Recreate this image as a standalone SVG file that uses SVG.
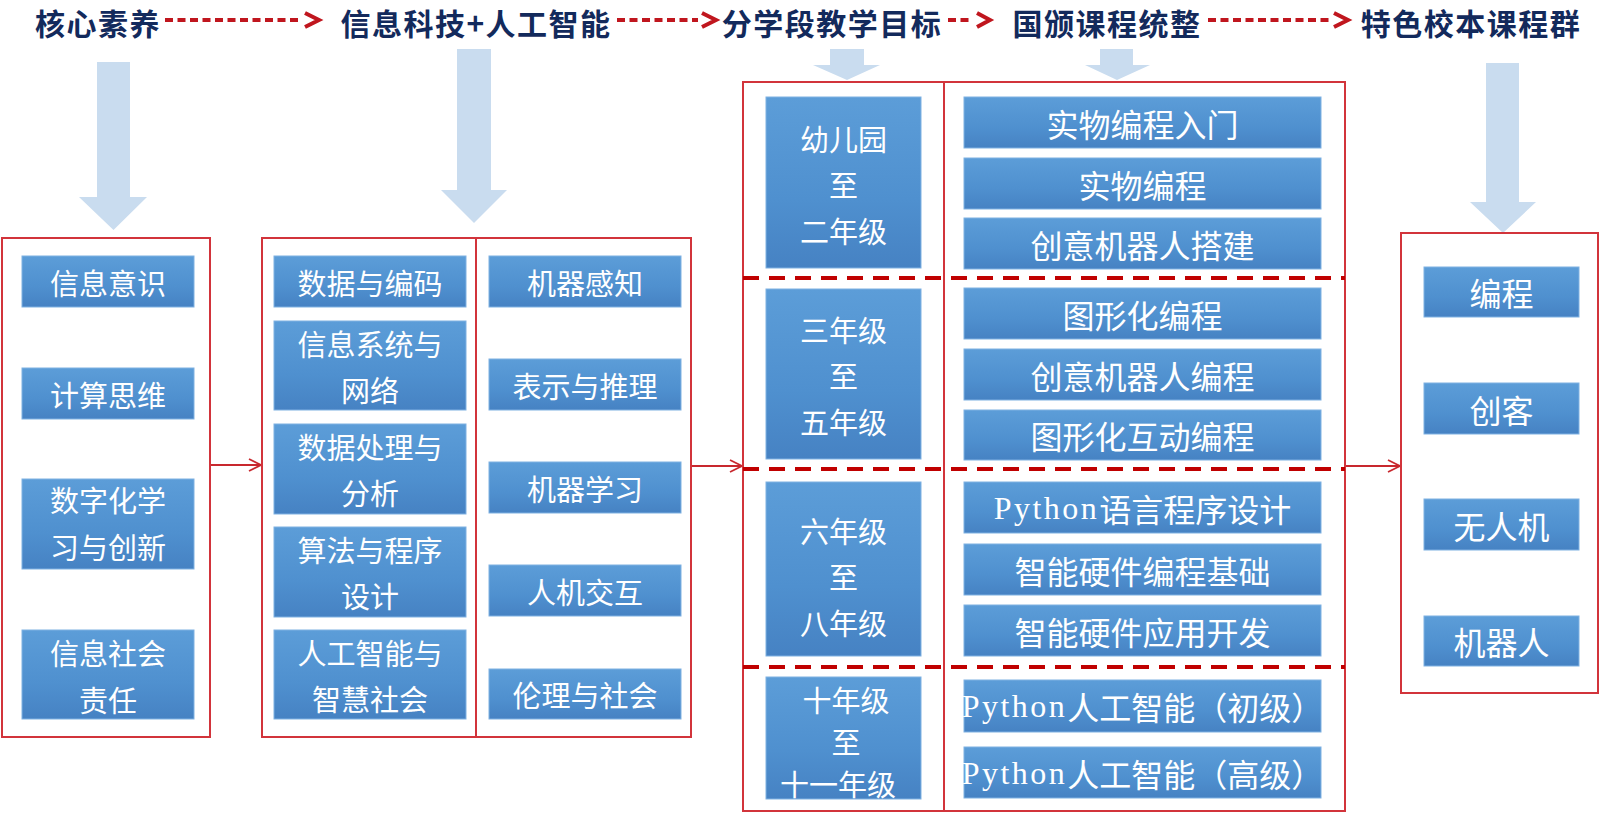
<svg xmlns="http://www.w3.org/2000/svg" width="1600" height="813" viewBox="0 0 1600 813">
<defs>
<linearGradient id="blueg" x1="0" y1="0" x2="0" y2="1">
<stop offset="0" stop-color="#5c9dd8"/>
<stop offset="0.6" stop-color="#4f90cf"/>
<stop offset="1" stop-color="#4682c3"/>
</linearGradient>
<marker id="chev" viewBox="-2 -2 16 16" refX="12" refY="6" markerWidth="16" markerHeight="16" markerUnits="userSpaceOnUse" orient="auto">
<path d="M0,0 L12,6 L0,12" fill="none" stroke="#c8282e" stroke-width="1.8" stroke-dasharray="none"/>
</marker>
<style>
.title{font-family:"Noto Sans CJK SC","Noto Sans",sans-serif;font-size:30px;font-weight:700;fill:#132a5c;letter-spacing:1.5px;text-anchor:middle;}
.frame{fill:none;stroke:#d2343b;stroke-width:2;}
.box{fill:url(#blueg);stroke:#7fb1e2;stroke-width:1;}
.t{font-family:"Noto Sans CJK SC","Noto Sans",sans-serif;font-size:29px;fill:#ffffff;text-anchor:middle;dominant-baseline:central;}
.tl{font-family:"Noto Sans CJK SC","Noto Sans",sans-serif;font-size:32px;fill:#ffffff;text-anchor:middle;dominant-baseline:central;}
.py{font-family:"Liberation Serif",serif;letter-spacing:2.5px;}
.big{fill:#c9dcef;}
.tdash{stroke:#c0161e;stroke-width:4;stroke-dasharray:8 4.5;fill:none;}
.thead{stroke:#c0161e;stroke-width:4;fill:none;stroke-linejoin:miter;}
.conn{stroke:#c8282e;stroke-width:2;fill:none;marker-end:url(#chev);}
.sep{stroke:#c00000;stroke-width:4;stroke-dasharray:16 10;fill:none;}
</style>
</defs>
<rect width="1600" height="813" fill="#ffffff"/>

<g id="titles">
<text class="title" x="98" y="35">核心素养</text>
<text class="title" x="476" y="35">信息科技+人工智能</text>
<text class="title" x="832" y="35">分学段教学目标</text>
<text class="title" x="1107" y="35">国颁课程统整</text>
<text class="title" x="1471" y="35">特色校本课程群</text>
</g>

<g id="connectors">
<line class="tdash" x1="165" y1="20" x2="300" y2="20"/>
<polyline class="thead" points="305,13 319,20 305,27"/>
<line class="tdash" x1="617" y1="20" x2="698" y2="20"/>
<polyline class="thead" points="702,13 716,20 702,27"/>
<line class="tdash" x1="948" y1="20" x2="973" y2="20"/>
<polyline class="thead" points="977,13 990,20 977,27"/>
<line class="tdash" x1="1208" y1="20" x2="1330" y2="20"/>
<polyline class="thead" points="1334,13 1348,20 1334,27"/>
<polygon class="big" points="97,62 130,62 130,197 147,197 113.5,230 79,197 97,197"/>
<polygon class="big" points="457,49 491,49 491,190 507,190 474,223 441,190 457,190"/>
<polygon class="big" points="830,49 864,49 864,65 880,65 847,80 813,65 830,65"/>
<polygon class="big" points="1100,49 1133,49 1133,65 1150,65 1117,80 1085,65 1100,65"/>
<polygon class="big" points="1486,63 1519,63 1519,202 1536,202 1503,233 1470,202 1486,202"/>
<line class="conn" x1="210" y1="465" x2="261" y2="465"/>
<line class="conn" x1="691" y1="466" x2="742" y2="466"/>
<line class="conn" x1="1346" y1="466" x2="1400" y2="466"/>
</g>

<g id="core-literacy">
<rect class="frame" x="2" y="238" width="208" height="499"/>
<g id="n-xxys"><rect class="box" x="22" y="256" width="172" height="51"/><text class="t" x="108" y="281.5">信息意识</text></g>
<g id="n-jssw"><rect class="box" x="22" y="368" width="172" height="51"/><text class="t" x="108" y="393.5">计算思维</text></g>
<g id="n-szh"><rect class="box" x="22" y="479" width="172" height="90"/><text class="t" x="108" y="499">数字化学</text><text class="t" x="108" y="546">习与创新</text></g>
<g id="n-xxsh"><rect class="box" x="22" y="630" width="172" height="89"/><text class="t" x="108" y="652">信息社会</text><text class="t" x="108" y="699">责任</text></g>
</g>

<g id="it-ai">
<rect class="frame" x="262" y="238" width="429" height="499"/>
<line class="frame" x1="476" y1="238" x2="476" y2="737"/>
<g id="n-sjybm"><rect class="box" x="274" y="256" width="192" height="51"/><text class="t" x="370" y="281.5">数据与编码</text></g>
<g id="n-xxxt"><rect class="box" x="274" y="321" width="192" height="89"/><text class="t" x="370" y="343">信息系统与</text><text class="t" x="370" y="389">网络</text></g>
<g id="n-sjcl"><rect class="box" x="274" y="424" width="192" height="90"/><text class="t" x="370" y="446">数据处理与</text><text class="t" x="370" y="492">分析</text></g>
<g id="n-sfcx"><rect class="box" x="274" y="527" width="192" height="90"/><text class="t" x="370" y="549">算法与程序</text><text class="t" x="370" y="595">设计</text></g>
<g id="n-rgzn"><rect class="box" x="274" y="630" width="192" height="89"/><text class="t" x="370" y="652">人工智能与</text><text class="t" x="370" y="698">智慧社会</text></g>
<g id="n-jqgz"><rect class="box" x="489" y="256" width="192" height="51"/><text class="t" x="585" y="281.5">机器感知</text></g>
<g id="n-bsyl"><rect class="box" x="489" y="359" width="192" height="51"/><text class="t" x="585" y="384.5">表示与推理</text></g>
<g id="n-jqxx"><rect class="box" x="489" y="462" width="192" height="51"/><text class="t" x="585" y="487.5">机器学习</text></g>
<g id="n-rjjh"><rect class="box" x="489" y="565" width="192" height="51"/><text class="t" x="585" y="590.5">人机交互</text></g>
<g id="n-llysh"><rect class="box" x="489" y="669" width="192" height="50"/><text class="t" x="585" y="694">伦理与社会</text></g>
</g>

<g id="stages">
<rect class="frame" x="743" y="82" width="602" height="729"/>
<line class="frame" x1="944" y1="82" x2="944" y2="811"/>
<line class="sep" x1="743" y1="278" x2="1345" y2="278"/>
<line class="sep" x1="743" y1="469" x2="1345" y2="469"/>
<line class="sep" x1="743" y1="667" x2="1345" y2="667"/>
<g id="n-g1"><rect class="box" x="766" y="97" width="155" height="171"/><text class="t" x="843.5" y="138">幼儿园</text><text class="t" x="843.5" y="184">至</text><text class="t" x="843.5" y="230">二年级</text></g>
<g id="n-g2"><rect class="box" x="766" y="289" width="155" height="170"/><text class="t" x="843.5" y="329">三年级</text><text class="t" x="843.5" y="375">至</text><text class="t" x="843.5" y="421">五年级</text></g>
<g id="n-g3"><rect class="box" x="766" y="482" width="155" height="174"/><text class="t" x="843.5" y="530">六年级</text><text class="t" x="843.5" y="576">至</text><text class="t" x="843.5" y="622">八年级</text></g>
<g id="n-g4"><rect class="box" x="766" y="677" width="155" height="122"/><text class="t" x="846" y="699">十年级</text><text class="t" x="846" y="741">至</text><text class="t" x="838" y="783">十一年级</text></g>
<g id="n-c1"><rect class="box" x="964" y="97" width="357" height="51"/><text class="tl" x="1142.5" y="122.5">实物编程入门</text></g>
<g id="n-c2"><rect class="box" x="964" y="158" width="357" height="51"/><text class="tl" x="1142.5" y="183.5">实物编程</text></g>
<g id="n-c3"><rect class="box" x="964" y="218" width="357" height="51"/><text class="tl" x="1142.5" y="243.5">创意机器人搭建</text></g>
<g id="n-c4"><rect class="box" x="964" y="288" width="357" height="51"/><text class="tl" x="1142.5" y="313.5">图形化编程</text></g>
<g id="n-c5"><rect class="box" x="964" y="349" width="357" height="51"/><text class="tl" x="1142.5" y="374.5">创意机器人编程</text></g>
<g id="n-c6"><rect class="box" x="964" y="410" width="357" height="50"/><text class="tl" x="1142.5" y="435">图形化互动编程</text></g>
<g id="n-c7"><rect class="box" x="964" y="482" width="357" height="51"/><text class="tl" x="1142.5" y="507.5"><tspan class="py">Python</tspan>语言程序设计</text></g>
<g id="n-c8"><rect class="box" x="964" y="544" width="357" height="51"/><text class="tl" x="1142.5" y="569.5">智能硬件编程基础</text></g>
<g id="n-c9"><rect class="box" x="964" y="605" width="357" height="51"/><text class="tl" x="1142.5" y="630.5">智能硬件应用开发</text></g>
<g id="n-c10"><rect class="box" x="964" y="680" width="357" height="52"/><text class="tl" x="1142.5" y="706"><tspan class="py">Python</tspan>人工智能（初级）</text></g>
<g id="n-c11"><rect class="box" x="964" y="747" width="357" height="51"/><text class="tl" x="1142.5" y="772.5"><tspan class="py">Python</tspan>人工智能（高级）</text></g>
</g>

<g id="school-courses">
<rect class="frame" x="1401" y="233" width="197" height="460"/>
<g id="n-bc"><rect class="box" x="1424" y="267" width="155" height="50"/><text class="tl" x="1501.5" y="292">编程</text></g>
<g id="n-ck"><rect class="box" x="1424" y="383" width="155" height="51"/><text class="tl" x="1501.5" y="408.5">创客</text></g>
<g id="n-wrj"><rect class="box" x="1424" y="499" width="155" height="51"/><text class="tl" x="1501.5" y="524.5">无人机</text></g>
<g id="n-jqr"><rect class="box" x="1424" y="616" width="155" height="50"/><text class="tl" x="1501.5" y="641">机器人</text></g>
</g>
</svg>
